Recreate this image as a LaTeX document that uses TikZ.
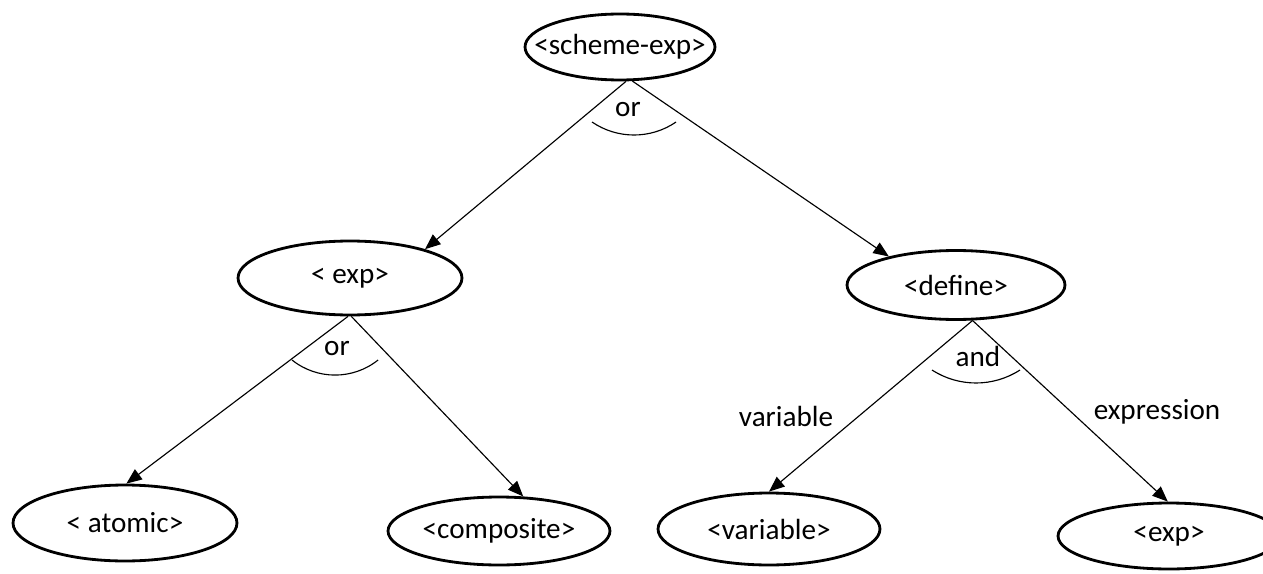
\documentclass[tikz,border=0pt]{standalone}
\usepackage{fontspec}
\setmainfont{Carlito}
\usetikzlibrary{shapes.geometric,arrows.meta}
\begin{document}
\begin{tikzpicture}[x=0.02cm, y=0.02cm]
    \tikzstyle{every node}+=[inner sep=0pt, font=\fontsize{16.6}{19}\selectfont]
    \tikzstyle{nt}=[draw=black, line width=1.6pt, ellipse, inner xsep=-2cm]
    \tikzstyle{link}=[black, line width=0.65pt, -{Triangle[length=0.31cm,width=0.25cm]}]
    \useasboundingbox (0,0) rectangle (1263,-574);
    \node [nt, minimum width=3.8cm, minimum height=1.32cm] (schemeexp) at (620,-47) {<scheme-exp>};
    \node [nt, minimum width=4.48cm, minimum height=1.48cm] (exp) at (350,-278) {< exp>};
    \node [nt, minimum width=4.36cm, minimum height=1.38cm] (define) at (956,-285) {<define>};
    \node [nt, minimum width=4.48cm, minimum height=1.52cm] (atomic) at (125,-523) {< atomic>};
    \node [nt, minimum width=4.44cm, minimum height=1.36cm] (composite) at (499,-531) {<composite>};
    \node [nt, minimum width=4.44cm, minimum height=1.44cm] (variable) at (769,-529) {<variable>};
    \node [nt, minimum width=4.44cm, minimum height=1.32cm] (expr) at (1169,-536) {<exp>};
    \node (or1) at (628,-110) {or};
    \node (or2) at (337,-349) {or};
    \node (and) at (978,-356) {and};
    \node (varlabel) at (786,-416) {variable};
    \node (exprlabel) at (1157,-412) {expression};
    \draw [link] (schemeexp.-80) -- (exp.21);
    \draw [link] (schemeexp.-70) -- (define.157);
    \draw [link] (exp.-93) -- (atomic.88);
    \draw [link] (exp.-88) -- (composite.55);
    \draw [link] (define.-65) -- (variable.north);
    \draw [link] (define.-65) -- (expr.92);
    \draw [black, line width=0.65pt] (592,-122) arc [start angle=235.6, end angle=304.4, radius=74.4];
    \draw [black, line width=0.65pt] (292,-360) arc [start angle=231.4, end angle=308.6, radius=69];
    \draw [black, line width=0.65pt] (932,-370) arc [start angle=237.1, end angle=302.9, radius=81];
\end{tikzpicture}
\end{document}
